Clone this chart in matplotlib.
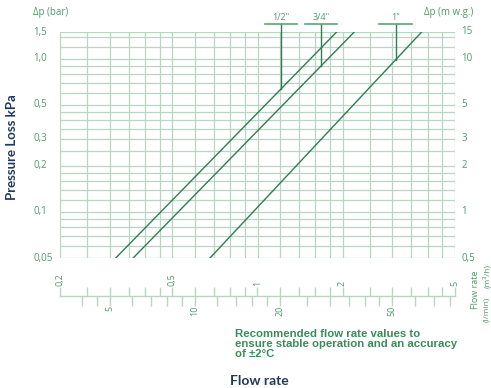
import numpy as np
import matplotlib
matplotlib.use("Agg")
import matplotlib.pyplot as plt
from matplotlib.transforms import blended_transform_factory

# DATA

sizes      = ['1/2"', '3/4"', '1"']
q_at_low   = [0.315, 0.363, 0.679]   # m3/h at 0.05 bar
q_at_high  = [1.906, 2.20, 3.81]     # m3/h at 1.5 bar
q_recomm   = [1.21, 1.68, 3.08]      # m3/h, recommended flow marks

p_grid   = [0.05, 0.06, 0.07, 0.08, 0.09, 0.1, 0.12, 0.14, 0.16, 0.18, 0.2, 0.25,
            0.3, 0.35, 0.4, 0.45, 0.5, 0.6, 0.7, 0.8, 0.9, 1.0, 1.2, 1.4, 1.5]
p_labels = [1.5, 1.0, 0.5, 0.3, 0.2, 0.1, 0.05]
bar_text = ["1,5", "1,0", "0,5", "0,3", "0,2", "0,1", "0,05"]
mwg_text = ["15", "10", "5", "3", "2", "1", "0,5"]

q_grid   = [0.2, 0.25, 0.3, 0.35, 0.4, 0.45, 0.5, 0.6, 0.7, 0.8, 0.9, 1.0, 1.2,
            1.4, 1.6, 1.8, 2.0, 2.5, 3.0, 3.5, 4.0, 4.5, 5.0]
q_labels = [0.2, 0.5, 1, 2, 5]
q_text   = ["0,2", "0,5", "1", "2", "5"]
l_ticks  = [4, 4.5, 5, 6, 7, 8, 9, 10, 12, 14, 16, 18, 20, 25, 30, 35, 40, 45,
            50, 60, 70, 80]
l_labels = [5, 10, 20, 50]

# STYLE

GRID   = "#b8d6c0"
TXT    = "#4f9a6b"
CURVE  = "#2f7d52"
NAVY   = "#1f3a5c"
REC    = "#3a8c5a"
W, H   = 491, 388
L_PX, R_PX, T_PX, B_PX = 60, 455, 32, 258
AXIS_PX = 295.7

plt.rcParams["font.family"] = ["Open Sans", "DejaVu Sans"]

fig = plt.figure(figsize=(W / 100, H / 100), dpi=100)
ax = fig.add_axes([L_PX / W, 1 - B_PX / H, (R_PX - L_PX) / W, (B_PX - T_PX) / H])
ax.set_xscale("log")
ax.set_yscale("log")
ax.set_xlim(0.2, 5)
ax.set_ylim(0.05, 1.5)
for s in ax.spines.values():
    s.set_visible(False)
ax.set_xticks([])
ax.set_yticks([])
ax.minorticks_off()

for p in p_grid:
    ax.axhline(p, color=GRID, lw=0.9, zorder=1)
for q in q_grid:
    ax.axvline(q, color=GRID, lw=0.9, zorder=1)

# pressure-loss lines, straight in log-log
for lo, hi in zip(q_at_low, q_at_high):
    ax.plot([lo, hi], [0.05, 1.5], color=CURVE, lw=1.0, zorder=3)

# recommended flow markers above each line
xt = ax.get_xaxis_transform()
ly0, ly1 = np.log10(0.05), np.log10(1.5)
top = 1 + 8 / (B_PX - T_PX)
for name, lo, hi, q in zip(sizes, q_at_low, q_at_high, q_recomm):
    n = (ly1 - ly0) / (np.log10(hi) - np.log10(lo))
    p = 0.05 * (q / lo) ** n
    y_ax = (np.log10(p) - ly0) / (ly1 - ly0)
    ax.plot([q, q], [y_ax, top], color=CURVE, lw=1.0, transform=xt,
            clip_on=False, zorder=4)
    ax.plot([q / 1.14, q * 1.14], [top, top], color="#5aa577", lw=1.2,
            transform=xt, clip_on=False, zorder=4)
    ax.text(q, top + 2.5 / (B_PX - T_PX), name, transform=xt, ha="center",
            va="bottom", fontsize=6.5, color=TXT)

# pressure tick labels on both sides
yt = blended_transform_factory(fig.transFigure, ax.transData)
for p, tb, tm in zip(p_labels, bar_text, mwg_text):
    fig.text(33 / W, p, tb, transform=yt, ha="left", va="center",
             fontsize=7, color=TXT)
    fig.text(461.5 / W, p, tm, transform=yt, ha="left", va="center",
             fontsize=7, color=TXT)

fig.text(33 / W, 1 - 12 / H, "Δp (bar)", ha="left", va="center",
         fontsize=7, color=TXT)
fig.text(473 / W, 1 - 12 / H, "Δp (m w.g.)", ha="right", va="center",
         fontsize=7, color=TXT)

# flow scale: m3/h ticks above the line, l/min ticks below
fax = fig.add_axes([L_PX / W, 1 - AXIS_PX / H, (R_PX - L_PX) / W, 1e-6])
fax.set_xscale("log")
fax.set_xlim(0.2, 5)
fax.set_yticks([])
for k in ["left", "right", "top"]:
    fax.spines[k].set_visible(False)
fax.spines["bottom"].set_color(GRID)
fax.spines["bottom"].set_linewidth(1.0)
fax.patch.set_visible(False)
fax.minorticks_off()
fax.set_xticks([l * 0.06 for l in l_ticks])
fax.set_xticklabels([""] * len(l_ticks))
fax.tick_params(axis="x", bottom=True, top=False, direction="out",
                length=7.5, width=1.0, color=GRID)

sec = fax.secondary_xaxis("top")
sec.set_xticks(q_grid)
sec.set_xticklabels([""] * len(q_grid))
sec.minorticks_off()
sec.spines["top"].set_visible(False)
sec.tick_params(axis="x", direction="out", length=6.5, width=1.0, color=GRID)

ft = blended_transform_factory(fax.transData, fig.transFigure)
for q, t in zip(q_labels, q_text):
    fax.text(q, 1 - 286.5 / H, t, transform=ft, rotation=90, ha="center",
             va="bottom", fontsize=6.5, color=TXT)
for l in l_labels:
    fax.text(l * 0.06, 1 - 306 / H, str(l), transform=ft, rotation=90,
             ha="center", va="top", fontsize=6.5, color=TXT)

fig.text(476 / W, 1 - 290 / H, "Flow rate", rotation=90, ha="center",
         va="center", fontsize=6.5, color=TXT)
fig.text(486.5 / W, 1 - 309 / H, "(l/min)", rotation=90, ha="center",
         va="center", fontsize=6, color=TXT)
fig.text(486.5 / W, 1 - 276 / H, "(m³/h)", rotation=90, ha="center",
         va="center", fontsize=6, color=TXT)

# titles and note
fig.text(12 / W, 1 - 147 / H, "Pressure Loss kPa", rotation=90, ha="center",
         va="center", fontsize=9.5, fontweight="bold", color=NAVY,
         family="Lato")
fig.text(230 / W, 1 - 381 / H, "Flow rate", ha="left", va="center",
         fontsize=10, fontweight="bold", color=NAVY, family="Lato")
fig.text(235 / W, 1 - 329 / H,
         "Recommended flow rate values to\nensure stable operation and an accuracy\nof ±2°C",
         ha="left", va="top", fontsize=8.2, fontweight="bold", color=REC,
         family="Liberation Sans", linespacing=1.0)

fig.savefig("out.png", dpi=100)
